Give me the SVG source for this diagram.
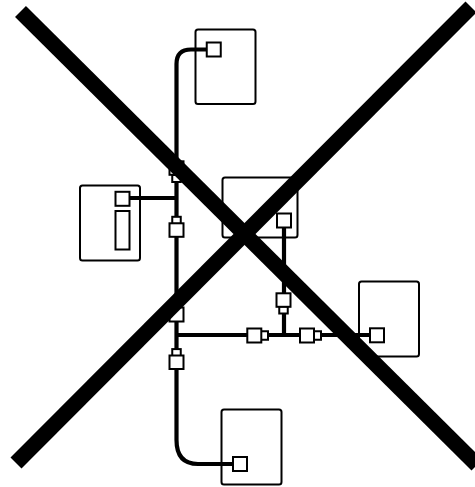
<svg xmlns="http://www.w3.org/2000/svg" width="475" height="487" viewBox="0 0 475 487">
<style>
.box{fill:#fff;stroke:#000;stroke-width:2}
.port{fill:#fff;stroke:#000;stroke-width:2}
.wire{fill:none;stroke:#000;stroke-width:4.2}
.cross{fill:none;stroke:#000;stroke-width:15.5}
</style>
<rect width="475" height="487" fill="#fff"/>
<g id="node-top"><rect class="box" x="195.500" y="29.500" width="60" height="74.500" rx="2.500"/></g>
<g id="node-left"><rect class="box" x="80" y="185.500" width="60" height="75" rx="2.500"/></g>
<g id="node-center"><rect class="box" x="222.500" y="177.500" width="75" height="60" rx="2.500"/></g>
<g id="node-right"><rect class="box" x="359" y="281.500" width="60" height="75" rx="2.500"/></g>
<g id="node-bottom"><rect class="box" x="221.500" y="409.500" width="60" height="75" rx="2.500"/></g>
<g id="connectors">
<path class="wire" d="M206 49.500H191Q176.500 49.500 176.500 64V322"/>
<path class="wire" d="M176.500 320V440Q176.500 464 198 464H233"/>
<path class="wire" d="M130 198H176.500"/>
<path class="wire" d="M284 228V335"/>
<path class="wire" d="M176.500 335H370"/>
</g>
<g id="port-top"><rect class="port" x="206.750" y="42.500" width="14" height="14"/></g>
<g id="port-left"><rect class="port" x="115.500" y="191.800" width="14" height="14"/></g>
<g id="port-left-tall"><rect class="port" x="115.500" y="211" width="14" height="38.500"/></g>
<g id="port-center"><rect class="port" x="277" y="213.500" width="14" height="14"/></g>
<g id="port-right"><rect class="port" x="370" y="328.300" width="14" height="14"/></g>
<g id="port-bottom"><rect class="port" x="233" y="457" width="14" height="14"/></g>
<g id="joint-v1"><rect class="port" x="172.250" y="175" width="8.500" height="7"/><rect class="port" x="169.500" y="161.300" width="14" height="13.500"/></g>
<g id="joint-v2"><rect class="port" x="172.250" y="216.800" width="8.500" height="7"/><rect class="port" x="169.500" y="223.300" width="14" height="13.500"/></g>
<g id="joint-v3"><rect class="port" x="172.250" y="300.800" width="8.500" height="7"/><rect class="port" x="169.500" y="307.500" width="14" height="14"/></g>
<g id="joint-v4"><rect class="port" x="172.250" y="349.100" width="8.500" height="7"/><rect class="port" x="169.500" y="355.500" width="14" height="13.500"/></g>
<g id="joint-c"><rect class="port" x="279.250" y="306.500" width="8.500" height="7"/><rect class="port" x="276.500" y="293.300" width="14" height="13.500"/></g>
<g id="joint-h1"><rect class="port" x="261" y="331.250" width="7" height="8.500"/><rect class="port" x="247.300" y="328.500" width="14" height="14"/></g>
<g id="joint-h2"><rect class="port" x="314" y="331.250" width="7" height="8.500"/><rect class="port" x="300" y="328.500" width="14" height="14"/></g>
<g id="cross"><path class="cross" d="M20.500 11.500L477 465"/><path class="cross" d="M16 463L471 7"/></g>
</svg>
